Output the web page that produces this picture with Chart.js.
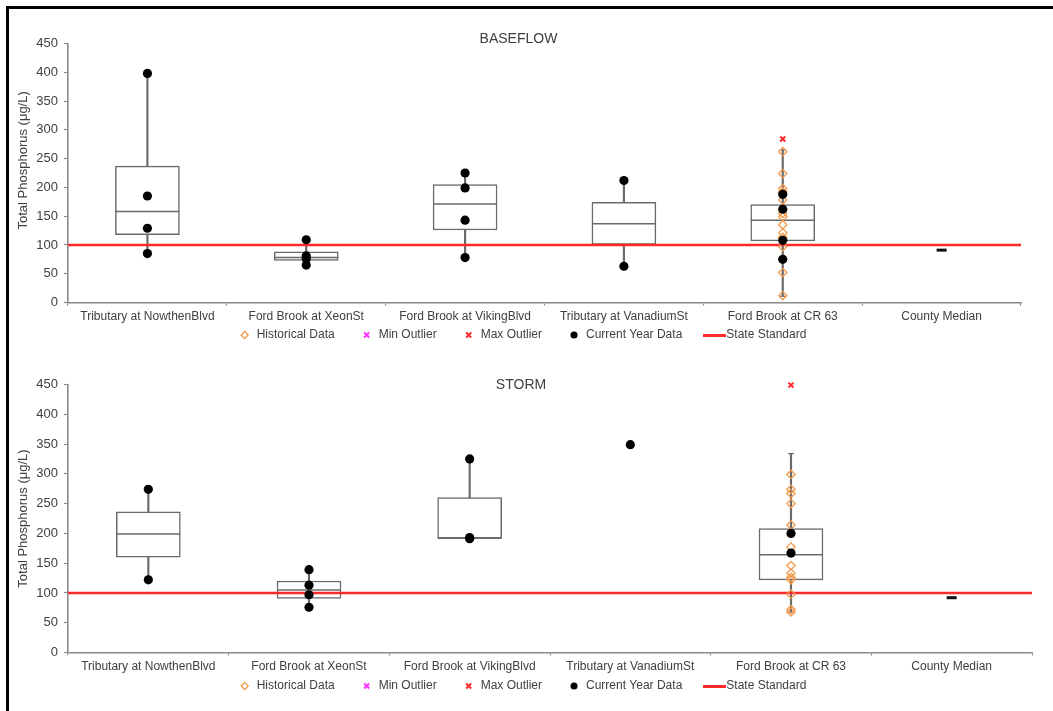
<!DOCTYPE html>
<html><head><meta charset="utf-8">
<script src="https://cdn.jsdelivr.net/npm/chart.js@4.4.1/dist/chart.umd.min.js"></script>
<style>
html,body{margin:0;padding:0;background:#fff;}
#wrap{position:relative;width:1053px;height:711px;overflow:hidden;background:#fff;}
#frameTop{position:absolute;left:6px;top:6px;right:0;height:3px;background:#000;}
#frameLeft{position:absolute;left:6px;top:6px;width:3px;bottom:0;background:#000;}
canvas{position:absolute;left:0;}
</style></head>
<body><div id="wrap">
<canvas id="c1" width="1053" height="380" style="top:0px"></canvas>
<canvas id="c2" width="1053" height="380" style="top:355px"></canvas>
<div id="frameTop"></div><div id="frameLeft"></div>
</div>
<script>
// ---------- DATA ----------
const categories = ['Tributary at NowthenBlvd','Ford Brook at XeonSt','Ford Brook at VikingBlvd','Tributary at VanadiumSt','Ford Brook at CR 63','County Median'];
const yTickValues = [0,50,100,150,200,250,300,350,400,450];
const legendLabels = ['Historical Data','Min Outlier','Max Outlier','Current Year Data','State Standard'];
const yTitle = 'Total Phosphorus (\u03bcg/L)';
const stateStandard = 100;

// BASEFLOW
const baseTitle = 'BASEFLOW';
const baseQ1 = [118, 73, 126, 101, 107, null];
const baseMedian = [158, 78, 171, 137, 143, null];
const baseQ3 = [237, 88, 205, 174, 170, null];
const baseWhiskerLow = [85, 65, 78, 63, 11, null];
const baseWhiskerHigh = [398, 109, 225, 212, 265, null];
const baseCapCategories = ['Ford Brook at CR 63'];
const baseCurrent = [[398,185,129,85],[109,81,76,65],[225,199,143,78],[212,63],[188,162,108,75],[]];
const baseHistorical = [[],[],[],[],[262,224,198,192,178,155,149,135,121,113,97,52,12],[]];
const baseMaxOutlier = [[],[],[],[],[284],[]];
const baseMinOutlier = [[],[],[],[],[],[]];
const baseCountyMedian = [null,null,null,null,null,91];

// STORM
const stormTitle = 'STORM';
const stormQ1 = [160, 91, 192, null, 122, null];
const stormMedian = [199, 105, 192, null, 164, null];
const stormQ3 = [236, 120, 260, null, 208, null];
const stormWhiskerLow = [122, 76, 192, null, 68, null];
const stormWhiskerHigh = [274, 139, 325, null, 334, null];
const stormCapCategories = ['Ford Brook at CR 63'];
const stormCurrent = [[274,122],[139,113,97,76],[325,193,191],[349],[200,167],[]];
const stormHistorical = [[],[],[],[],[299,274,267,250,214,177,146,133,126,122,98,72,68],[]];
const stormMaxOutlier = [[],[],[],[],[449],[]];
const stormMinOutlier = [[],[],[],[],[],[]];
const stormCountyMedian = [null,null,null,null,null,92];

// ---------- STYLE ----------
Chart.defaults.font.family = '"Liberation Sans", Arial, sans-serif';
const TXT = '#404040', AXIS = '#8a8a8a', BOX = '#6a6a6a', RED = '#ff2a2a', ORANGE = '#F39A4C';

const lineMark = document.createElement('canvas');
lineMark.width = 23; lineMark.height = 3;
(function(){const c = lineMark.getContext('2d'); c.fillStyle = RED; c.fillRect(0,0,23,3);})();

function flat(groups){
  const out = [];
  groups.forEach((g,i)=>g.forEach(v=>out.push({x: categories[i], y: v})));
  return out;
}

const titlePlugin = {
  id: 'boxTitle',
  afterDraw(chart, args, opts){
    const ctx = chart.ctx;
    ctx.save();
    ctx.font = '14px "Liberation Sans", Arial, sans-serif';
    ctx.fillStyle = TXT; ctx.textAlign = 'center'; ctx.textBaseline = 'middle';
    ctx.fillText(opts.text, opts.x, opts.y);
    ctx.restore();
  }
};
const legendShift = {
  id: 'legendShift',
  afterLayout(chart, args, opts){
    const lg = chart.legend; if (!lg) return;
    lg.top += opts.dy; lg.bottom += opts.dy;
    lg.left += opts.dx; lg.right += opts.dx;
  }
};

function makeChart(id, s, lay){
  const capData = [];
  s.caps.forEach(c=>{const i = categories.indexOf(c); capData.push({x:c, y:s.lo[i]}); capData.push({x:c, y:s.hi[i]});});
  const pt = (o)=>Object.assign({type:'line', showLine:false, xAxisID:'x', yAxisID:'y', clip:false}, o);
  return new Chart(document.getElementById(id), {
    type: 'bar',
    data: {
      labels: categories,
      datasets: [
        pt({label: legendLabels[0], data: flat(s.hist), pointStyle:'rectRot', pointRadius:4.2, pointBorderWidth:1.3,
            borderColor: ORANGE, backgroundColor:'rgba(255,255,255,0)', pointBorderColor: ORANGE, pointBackgroundColor:'rgba(255,255,255,0)', order:2}),
        pt({label: legendLabels[1], data: flat(s.minOut), pointStyle:'crossRot', pointRadius:3.5, pointBorderWidth:2,
            borderColor:'#ff33ff', backgroundColor:'#ff33ff', pointBorderColor:'#ff33ff', borderWidth:2, order:1}),
        pt({label: legendLabels[2], data: flat(s.maxOut), pointStyle:'crossRot', pointRadius:3.5, pointBorderWidth:2,
            borderColor:RED, backgroundColor:RED, pointBorderColor:RED, borderWidth:2, order:1}),
        pt({label: legendLabels[3], data: flat(s.cur), pointStyle:'circle', pointRadius:4.6, pointBorderWidth:0,
            borderColor:'#000', backgroundColor:'#000', pointBackgroundColor:'#000', order:0}),
        {type:'line', label: legendLabels[4], xAxisID:'xr', yAxisID:'y',
          data:[{x:0,y:stateStandard},{x:1,y:stateStandard}], borderColor:RED, backgroundColor:RED, borderWidth:2.5,
          pointRadius:0, pointStyle: lineMark, order:3},
        pt({label:'median', data: s.med, pointStyle:'line', pointRadius:32, pointBorderWidth:1.5, borderColor:BOX, pointBorderColor:BOX, order:4}),
        {type:'bar', label:'box', data: s.q1.map((v,i)=> v==null ? null : [v, s.q3[i]]), backgroundColor:'#fff',
          borderColor:BOX, borderWidth:1.5, borderSkipped:false, barThickness:64, grouped:false, order:5},
        {type:'bar', label:'whisker', data: s.lo.map((v,i)=> v==null ? null : [v, s.hi[i]]), backgroundColor:BOX,
          borderWidth:0, barThickness:1.5, grouped:false, order:6},
        pt({label:'caps', data: capData, pointStyle:'line', pointRadius:3, pointBorderWidth:1.2, borderColor:BOX, pointBorderColor:BOX, order:6}),
        pt({label:'county', data: s.county, pointStyle:'line', pointRadius:5, pointBorderWidth:3, borderColor:'#111', pointBorderColor:'#111', order:4})
      ]
    },
    options: {
      responsive:false, animation:false, events:[],
      layout:{padding: lay.padding, autoPadding:false},
      scales: {
        x: {type:'category', offset:true,
            grid:{display:true, drawOnChartArea:false, offset:true, tickLength:3, color:AXIS, tickWidth:1.2},
            border:{color:AXIS, width:1.6},
            ticks:{font:{size:12}, color:TXT, padding:4, maxRotation:0, autoSkip:false},
            afterFit: sc => { sc.height = lay.xh; }},
        xr: {type:'linear', display:false, min:0, max:1, offset:false},
        y: {min: yTickValues[0], max: yTickValues[yTickValues.length-1],
            afterBuildTicks: sc => { sc.ticks = yTickValues.map(v=>({value:v})); },
            grid:{display:true, drawOnChartArea:false, tickLength:4, color:AXIS, tickWidth:1.2},
            border:{color:AXIS, width:1.6},
            ticks:{font:{size:13}, color:TXT, padding:6},
            title:{display:true, text: lay.ytitle, font:{size:13}, color:TXT, padding:{top:16, bottom:0}},
            afterFit: sc => { sc.width = 68; }}
      },
      plugins: {
        legend:{position:'bottom', labels:{usePointStyle:true, boxHeight:5, padding:26, color:TXT, font:{size:12},
          filter: item => legendLabels.includes(item.text),
          sort: (a,b) => a.datasetIndex - b.datasetIndex}},
        tooltip:{enabled:false},
        boxTitle:{text: lay.title, x: lay.tx, y: lay.ty},
        legendShift:{dy: lay.ldy, dx: lay.ldx}
      }
    },
    plugins:[titlePlugin, legendShift]
  });
}

makeChart('c1', {q1:baseQ1, med:baseMedian, q3:baseQ3, lo:baseWhiskerLow, hi:baseWhiskerHigh, caps:baseCapCategories,
  cur:baseCurrent, hist:baseHistorical, maxOut:baseMaxOutlier, minOut:baseMinOutlier, county:baseCountyMedian},
  {padding:{top:43.5, right:32, bottom:5.5, left:0}, xh:24, ldy:-23.5, ldx:12, title:baseTitle, tx:518.5, ty:39,
   ytitle: '       ' + yTitle});
makeChart('c2', {q1:stormQ1, med:stormMedian, q3:stormQ3, lo:stormWhiskerLow, hi:stormWhiskerHigh, caps:stormCapCategories,
  cur:stormCurrent, hist:stormHistorical, maxOut:stormMaxOutlier, minOut:stormMinOutlier, county:stormCountyMedian},
  {padding:{top:29.5, right:21, bottom:10.5, left:0}, xh:24, ldy:-22.5, ldx:6.5, title:stormTitle, tx:521, ty:30,
   ytitle: yTitle});
</script>
</body></html>
